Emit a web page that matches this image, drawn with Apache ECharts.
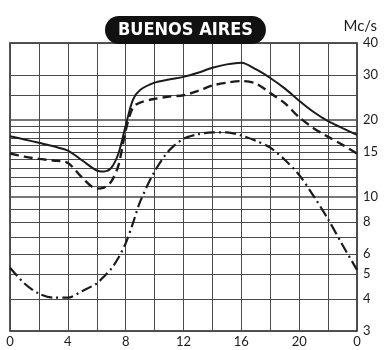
<!DOCTYPE html>
<html>
<head>
<meta charset="utf-8">
<script src="https://cdn.jsdelivr.net/npm/echarts@6/dist/echarts.min.js"></script>
<style>
  html, body { margin: 0; padding: 0; background: #fff; }
  #chart { width: 385px; height: 350px; }
</style>
</head>
<body>
<div id="chart"></div>
<script>
// Hour of day (local time), 0..24
const hours = [0, 1, 2, 3, 4, 5, 6, 6.5, 7, 7.5, 8, 8.5, 9, 10, 11, 12, 13, 14, 15, 16, 17, 18, 19, 20, 21, 22, 23, 24];

// Frequencies in Mc/s
const upperCurve = [17.3, 16.8, 16.3, 15.8, 15.2, 13.9, 12.7, 12.6, 13.0, 14.8, 19.0, 24.0, 26.2, 28.0, 28.8, 29.5, 30.6, 32.0, 33.0, 33.5, 31.6, 29.2, 26.6, 23.8, 21.5, 19.8, 18.6, 17.5];
const middleCurve = [14.8, 14.4, 14.1, 13.9, 13.6, 11.9, 10.8, 10.9, 11.5, 13.3, 18.2, 22.4, 23.4, 24.2, 24.7, 25.0, 26.0, 27.3, 28.0, 28.4, 27.8, 25.5, 23.3, 20.5, 18.6, 17.2, 16.0, 14.8];
const lowerCurve = [5.3, 4.6, 4.2, 4.05, 4.05, 4.3, 4.6, 4.9, 5.25, 5.8, 6.6, 7.9, 9.6, 12.6, 15.2, 16.9, 17.6, 17.9, 17.9, 17.4, 16.6, 15.6, 14.0, 12.2, 10.1, 8.2, 6.5, 5.2];

// Horizontal rulings and the ones that carry a scale figure
const gridValues = [3, 4, 5, 6, 7, 8, 9, 10, 11, 12, 13, 14, 15, 16, 17, 18, 19, 20, 25, 30, 40];
const labelValues = [3, 4, 5, 6, 8, 10, 15, 20, 30, 40];
const hourTicks = [0, 4, 8, 12, 16, 20, 24];

const INK = '#1b1b1b';
const FONT = 'Lato, "Open Sans", sans-serif';

const pairs = vals => hours.map((h, i) => [h, vals[i]]);

const rulings = gridValues.map(v => {
  const labelled = labelValues.includes(v);
  return {
    yAxis: v,
    lineStyle: { color: '#4a4a4a', width: (v === 20 || v === 10) ? 1.6 : 1, type: 'solid' },
    label: {
      show: labelled,
      position: 'end',
      distance: 6,
      formatter: String(v),
      color: INK,
      fontFamily: FONT,
      fontSize: 13
    }
  };
});

const curveBase = {
  type: 'line',
  smooth: 0.3,
  showSymbol: false,
  symbol: 'none',
  z: 3
};

const chart = echarts.init(document.getElementById('chart'), null, { renderer: 'canvas' });
chart.setOption({
  backgroundColor: '#fff',
  animation: false,
  title: [
    {
      text: 'BUENOS AIRES',
      left: 105,
      top: 16,
      backgroundColor: '#111',
      borderRadius: 14,
      padding: [5, 13, 5, 13],
      textStyle: {
        color: '#fff',
        fontWeight: 'bold',
        fontSize: 18,
        fontFamily: '"DejaVu Sans Condensed", "Liberation Sans Narrow", sans-serif'
      },
      z: 10
    },
    {
      text: 'Mc/s',
      right: 3,
      top: 14,
      textStyle: { color: INK, fontWeight: 'normal', fontSize: 15, fontFamily: FONT }
    }
  ],
  grid: {
    left: 10,
    right: 28,
    top: 43,
    bottom: 19,
    show: true,
    borderColor: INK,
    borderWidth: 1.5,
    backgroundColor: 'transparent'
  },
  xAxis: {
    type: 'value',
    min: 0,
    max: 24,
    interval: 2,
    axisLine: { show: false },
    axisTick: { show: false },
    splitLine: { show: true, lineStyle: { color: '#4a4a4a', width: 1 } },
    axisLabel: {
      margin: 4,
      color: INK,
      fontFamily: FONT,
      fontSize: 13,
      showMinLabel: true,
      showMaxLabel: true,
      formatter: v => hourTicks.includes(v) ? String(v % 24) : ''
    }
  },
  yAxis: {
    type: 'log',
    logBase: 10,
    min: 3,
    max: 40,
    position: 'right',
    axisLine: { show: false },
    axisTick: { show: false },
    axisLabel: { show: false },
    splitLine: { show: false }
  },
  series: [
    {
      name: 'rulings',
      type: 'line',
      data: [],
      z: 1,
      markLine: {
        silent: true,
        symbol: ['none', 'none'],
        z: 1,
        animation: false,
        data: rulings
      }
    },
    Object.assign({}, curveBase, {
      name: 'upper',
      data: pairs(upperCurve),
      lineStyle: { color: INK, width: 2, type: 'solid' }
    }),
    Object.assign({}, curveBase, {
      name: 'middle',
      data: pairs(middleCurve),
      lineStyle: { color: INK, width: 2.4, type: [9, 5] }
    }),
    Object.assign({}, curveBase, {
      name: 'lower',
      data: pairs(lowerCurve),
      lineStyle: { color: INK, width: 2.2, type: [11, 4, 2, 4] }
    })
  ]
});
</script>
</body>
</html>
